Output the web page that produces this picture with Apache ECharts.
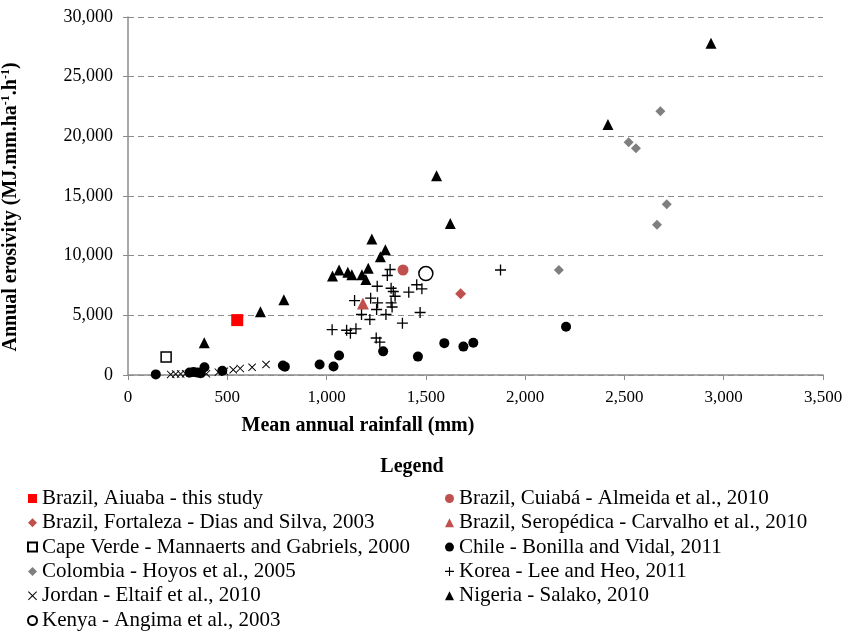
<!DOCTYPE html>
<html>
<head>
<meta charset="utf-8">
<script src="https://cdn.jsdelivr.net/npm/echarts@6/dist/echarts.min.js"></script>
<style>html,body{margin:0;padding:0;background:#fff}#c{width:856px;height:632px}</style>
</head>
<body>
<div id="c"></div>
<script>
// ---- data (mean annual rainfall mm, annual erosivity) ----
const aiuabaX = [550];            const aiuabaY = [4600];
const cuiabaX = [1385];           const cuiabaY = [8800];
const fortalezaX = [1675];        const fortalezaY = [6800];
const seropedicaX = [1183];       const seropedicaY = [6000];
const capeVerdeX = [192];         const capeVerdeY = [1500];
const kenyaX = [1500];            const kenyaY = [8500];
const chileX = [140, 310, 330, 350, 365, 385, 475, 780, 790, 965, 1035, 1063, 1285, 1460, 1593, 1689, 1739, 2206];
const chileY = [50, 200, 250, 200, 150, 650, 350, 800, 700, 880, 710, 1630, 1980, 1540, 2670, 2380, 2700, 4040];
const colombiaX = [2170, 2521, 2558, 2664, 2681, 2713];
const colombiaY = [8800, 19500, 19000, 12600, 22100, 14300];
const koreaX = [1028, 1101, 1148, 1120, 1250, 1268, 1382, 1218, 1176, 1299, 1471, 1252, 1141, 1222, 1257, 1325, 1336, 1345, 1414, 1255, 1325, 1306, 1320, 1454, 1480, 1876, 1330];
const koreaY = [3800, 3750, 3870, 3500, 3100, 2750, 4340, 4650, 5070, 5070, 5240, 5490, 6240, 6440, 6050, 6050, 7000, 6600, 6940, 7440, 7270, 8340, 8840, 7560, 7220, 8800, 5700];
const jordanX = [215, 240, 265, 290, 395, 455, 485, 530, 565, 625, 695];
const jordanY = [50, 80, 90, 110, 100, 240, 310, 440, 550, 650, 880];
const nigeriaX = [384, 667, 785, 1030, 1063, 1107, 1127, 1178, 1198, 1210, 1228, 1271, 1296, 1554, 1623, 2417, 2936];
const nigeriaY = [2700, 5300, 6300, 8300, 8800, 8600, 8400, 8400, 8000, 8950, 11400, 9900, 10500, 16700, 12700, 21000, 27800];
const xTicks = {min: 0, max: 3500, interval: 500};
const yTicks = {min: 0, max: 30000, interval: 5000};

const names = {
  aiuaba: 'Brazil, Aiuaba - this study',
  cuiaba: 'Brazil, Cuiabá - Almeida et al., 2010',
  fortaleza: 'Brazil, Fortaleza - Dias and Silva, 2003',
  seropedica: 'Brazil, Seropédica - Carvalho et al., 2010',
  capeVerde: 'Cape Verde - Mannaerts and Gabriels, 2000',
  chile: 'Chile - Bonilla and Vidal, 2011',
  colombia: 'Colombia - Hoyos et al., 2005',
  korea: 'Korea - Lee and Heo, 2011',
  jordan: 'Jordan - Eltaif et al., 2010',
  nigeria: 'Nigeria - Salako, 2010',
  kenya: 'Kenya - Angima et al., 2003'
};

const zip = (xs, ys) => xs.map((x, i) => [x, ys[i]]);
const SERIF = '"Liberation Serif", "Times New Roman", serif';
const PLUS = 'path://M4.4,0H5.6V4.4H10V5.6H5.6V10H4.4V5.6H0V4.4H4.4Z';
const CROSS = 'path://M0.8,0L5,4.2L9.2,0L10,0.8L5.8,5L10,9.2L9.2,10L5,5.8L0.8,10L0,9.2L4.2,5L0,0.8Z';

function sc(name, xs, ys, symbol, size, itemStyle) {
  return {
    type: 'scatter', name: name, data: zip(xs, ys), symbol: symbol, symbolSize: size,
    itemStyle: Object.assign({opacity: 1}, itemStyle), emphasis: {disabled: true}, animation: false
  };
}

const series = [
  sc(names.chile, chileX, chileY, 'circle', 10, {color: '#000'}),
  sc(names.jordan, jordanX, jordanY, CROSS, 8, {color: '#000'}),
  sc(names.nigeria, nigeriaX, nigeriaY, 'triangle', 11, {color: '#000'}),
  sc(names.korea, koreaX, koreaY, PLUS, 11, {color: '#000'}),
  sc(names.colombia, colombiaX, colombiaY, 'diamond', 10, {color: '#7f7f7f'}),
  sc(names.capeVerde, capeVerdeX, capeVerdeY, 'rect', 10, {color: '#fff', borderColor: '#000', borderWidth: 1.5}),
  sc(names.kenya, kenyaX, kenyaY, 'circle', 14, {color: '#fff', borderColor: '#000', borderWidth: 1.5}),
  sc(names.fortaleza, fortalezaX, fortalezaY, 'diamond', 11, {color: '#c0504d'}),
  sc(names.seropedica, seropedicaX, seropedicaY, 'triangle', 12, {color: '#c0504d'}),
  sc(names.cuiaba, cuiabaX, cuiabaY, 'circle', 11, {color: '#c0504d'}),
  sc(names.aiuaba, aiuabaX, aiuabaY, 'rect', 12, {color: '#ff0000'})
];

const legendText = {fontFamily: SERIF, fontSize: 21, color: '#000'};
function leg(left, top, data) {
  return {
    orient: 'vertical', left: left, top: top, itemWidth: 9, itemHeight: 9, itemGap: 3.3,
    selectedMode: false, textStyle: legendText, padding: 0, data: data
  };
}
const chart = echarts.init(document.getElementById('c'), null, {renderer: 'canvas'});
chart.setOption({
  backgroundColor: '#fff',
  animation: false,
  grid: {left: 128, right: 33, top: 17, bottom: 257, containLabel: false, outerBoundsMode: 'none'},
  xAxis: {
    type: 'value', min: xTicks.min, max: xTicks.max, interval: xTicks.interval,
    axisLine: {show: true, lineStyle: {color: '#8c8c8c', width: 1.5}},
    axisTick: {show: true, inside: false, length: 5, lineStyle: {color: '#8c8c8c'}},
    splitLine: {show: false},
    axisLabel: {fontFamily: SERIF, fontSize: 17, color: '#000', margin: 14}
  },
  yAxis: {
    type: 'value', min: yTicks.min, max: yTicks.max, interval: yTicks.interval,
    axisLine: {show: true, lineStyle: {color: '#8c8c8c', width: 1.5}},
    axisTick: {show: true, inside: false, length: 5, lineStyle: {color: '#8c8c8c'}},
    splitLine: {show: true, lineStyle: {color: '#8c8c8c', type: [6, 4], width: 1.2}},
    axisLabel: {fontFamily: SERIF, fontSize: 18, color: '#000', margin: 15},
    name: '{b|Annual erosivity (MJ.mm.ha}{s|-1}{b|.h}{s|-1}{b|)}',
    nameLocation: 'middle', nameGap: 106,
    nameTextStyle: {
      padding: [0, 22, 0, 0],
      rich: {
        b: {fontFamily: SERIF, fontWeight: 'bold', fontSize: 20, color: '#000', lineHeight: 22},
        s: {fontFamily: SERIF, fontWeight: 'bold', fontSize: 12, color: '#000', lineHeight: 13, verticalAlign: 'top'}
      }
    }
  },
  legend: [
    leg(27, 488, [names.aiuaba, names.fortaleza, names.capeVerde, names.colombia, names.jordan]),
    leg(27, 610, [names.kenya]),
    leg(445, 488, [names.cuiaba, names.seropedica, names.chile, names.korea, names.nigeria])
  ],
  graphic: [
    {type: 'text', x: 358, y: 426, style: {text: 'Mean annual rainfall (mm)', align: 'center', textAlign: 'center', verticalAlign: 'middle', textVerticalAlign: 'middle', fontFamily: SERIF, fontWeight: 'bold', fontSize: 20, fill: '#000'}},
    {type: 'text', x: 412, y: 467, style: {text: 'Legend', align: 'center', textAlign: 'center', verticalAlign: 'middle', textVerticalAlign: 'middle', fontFamily: SERIF, fontWeight: 'bold', fontSize: 20, fill: '#000'}}
  ],
  series: series
});
</script>
</body>
</html>
